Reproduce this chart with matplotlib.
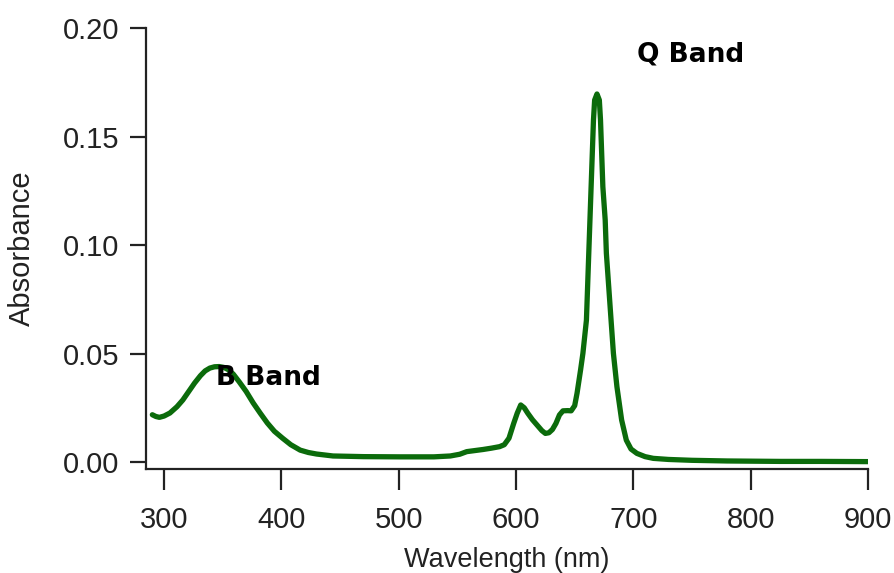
import numpy as np
import matplotlib
matplotlib.use("Agg")
import matplotlib.pyplot as plt

# absorbance spectrum
wavelength = [290, 293, 296, 300, 305, 311, 316, 321, 326, 331, 335, 339, 343, 347,
              351, 355, 359, 364, 370, 376, 382, 388, 394, 401, 408, 416, 423, 430,
              444, 470, 501, 530, 544, 552, 558, 565, 572, 579, 586, 590, 594, 598,
              601, 604, 607, 610, 614, 618, 622, 625, 628, 631, 634, 637, 640, 644,
              647, 650, 652, 655, 657, 660, 661, 662, 663, 664, 665, 666, 667, 669,
              671, 672, 673, 674, 676, 677, 679, 681, 683, 686, 690, 694, 698, 703,
              710, 717, 730, 750, 780, 825, 860, 900]
absorbance = [0.0218, 0.0210, 0.0206, 0.0212, 0.0226, 0.0255, 0.0286, 0.0325, 0.0364,
              0.0398, 0.0420, 0.0433, 0.0439, 0.0440, 0.0436, 0.0425, 0.0405, 0.0370,
              0.0325, 0.0272, 0.0225, 0.0180, 0.0142, 0.0110, 0.0080, 0.0055, 0.0044,
              0.0037, 0.0028, 0.0025, 0.0024, 0.0024, 0.0028, 0.0036, 0.0048, 0.0053,
              0.0058, 0.0064, 0.0071, 0.0080, 0.0110, 0.0178, 0.0225, 0.0263, 0.0250,
              0.0225, 0.0195, 0.0170, 0.0145, 0.0132, 0.0135, 0.0150, 0.0178, 0.0217,
              0.0236, 0.0237, 0.0236, 0.0260, 0.0317, 0.0424, 0.0501, 0.0654, 0.0808,
              0.0962, 0.1115, 0.1269, 0.1422, 0.1576, 0.1668, 0.1696, 0.1668, 0.1576,
              0.1422, 0.1269, 0.1115, 0.0962, 0.0808, 0.0654, 0.0501, 0.0347, 0.0194,
              0.0101, 0.0060, 0.0040, 0.0025, 0.0017, 0.0012, 0.0008, 0.0005, 0.0003,
              0.0003, 0.0002]

labels = ["B Band", "Q Band"]
label_x = [344, 703]
label_y = [0.0355, 0.1845]

xticks = [300, 400, 500, 600, 700, 800, 900]
yticks = [0.00, 0.05, 0.10, 0.15, 0.20]

txt_font = ['Liberation Sans', 'DejaVu Sans']
ink = '#222222'

fig = plt.figure(figsize=(8.94, 5.73), dpi=100)
ax = fig.add_axes([146/894, 1 - 469/573, (868 - 146)/894, (469 - 28)/573])

ax.plot(wavelength, absorbance, color='#0b6b0b', linewidth=3.8,
        solid_joinstyle='round', solid_capstyle='round')

ax.set_xlim(284.6, 900)
ax.set_ylim(-0.0032, 0.20)
ax.set_xticks(xticks)
ax.set_yticks(yticks)
ax.set_yticklabels([f"{v:.2f}" for v in yticks])

for s in ['top', 'right']:
    ax.spines[s].set_visible(False)
for s in ['left', 'bottom']:
    ax.spines[s].set_linewidth(1.6)
    ax.spines[s].set_color(ink)

ax.tick_params(axis='y', direction='out', length=11.5, width=1.6, pad=8, colors=ink)
ax.tick_params(axis='x', direction='out', length=15, width=1.6, pad=12, colors=ink)
for lab in ax.get_xticklabels() + ax.get_yticklabels():
    lab.set_family(txt_font)
    lab.set_fontsize(21)

ax.set_xlabel("Wavelength (nm)", family=txt_font, fontsize=19.5, color=ink, labelpad=9)
ax.set_ylabel("Absorbance", family=txt_font, fontsize=21, color=ink, labelpad=19)

for t, x, y in zip(labels, label_x, label_y):
    ax.text(x, y, t, fontsize=19, fontweight='bold', family='DejaVu Sans',
            ha='left', va='baseline', color='black')

fig.savefig("out.png", dpi=100)
